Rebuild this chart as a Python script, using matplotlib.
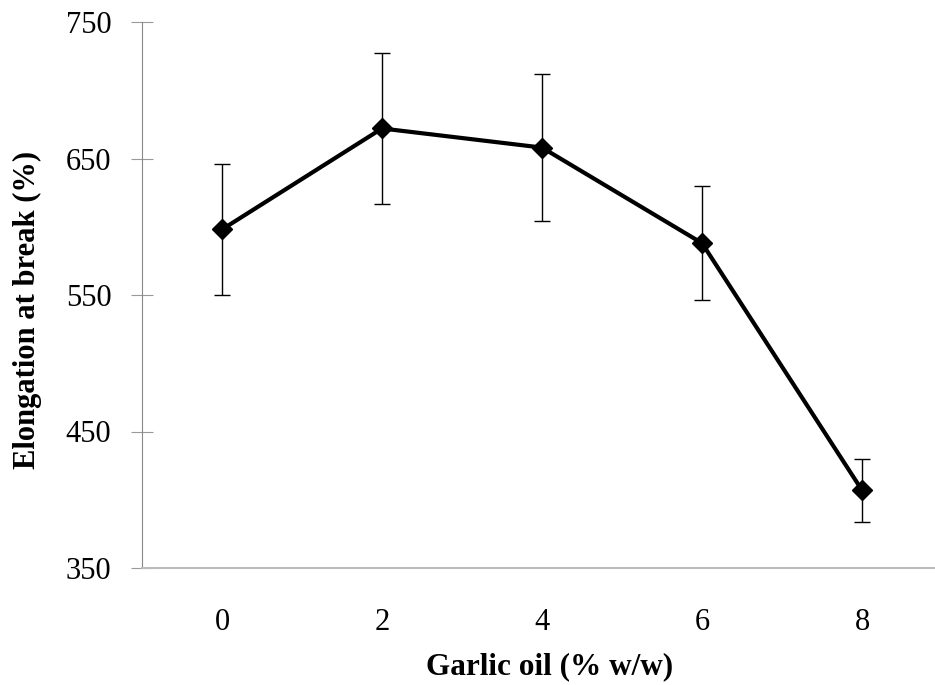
import matplotlib

matplotlib.use("Agg")
import matplotlib.pyplot as plt

# garlic oil content (% w/w) vs elongation at break
categories = ["0", "2", "4", "6", "8"]
elongation = [598, 672, 658, 588, 407]
errors = [48, 55, 54, 42, 23]

plt.rcParams["font.family"] = ["Liberation Serif", "DejaVu Serif"]

fig = plt.figure(figsize=(9.35, 6.85), dpi=100)
ax = fig.add_axes([142 / 935, 117 / 685, 800 / 935, 546 / 685])

x = list(range(len(categories)))
ax.errorbar(x, elongation, yerr=errors, color="black", lw=3,
            marker="D", markersize=10, ecolor="black", elinewidth=1,
            capsize=6, capthick=1, zorder=3)

ax.set_xlim(-0.5, len(categories) - 0.5)
ax.set_ylim(350, 750)
ax.set_yticks([350, 450, 550, 650, 750])
ax.set_xticks(x)
ax.set_xticklabels(categories)

for side in ("top", "right"):
    ax.spines[side].set_visible(False)
ax.spines["left"].set_color("#888888")
ax.spines["bottom"].set_color("#bbbbbb")
ax.spines["bottom"].set_linewidth(1.5)

ax.tick_params(axis="y", direction="inout", length=16, color="#999999",
               labelsize=22, pad=14)
ax.tick_params(axis="x", length=0, labelsize=22, pad=29)

ax.set_xlabel("Garlic oil (% w/w)", fontsize=22.5, fontweight="bold", labelpad=12)
ax.set_ylabel("Elongation at break (%)", fontsize=22, fontweight="bold")
# label sits a bit below the axis middle in the original
ax.yaxis.set_label_coords(-0.125, 0.4725)
ax.xaxis.set_label_coords(0.509, -0.155)

fig.savefig("out.png", dpi=100)
